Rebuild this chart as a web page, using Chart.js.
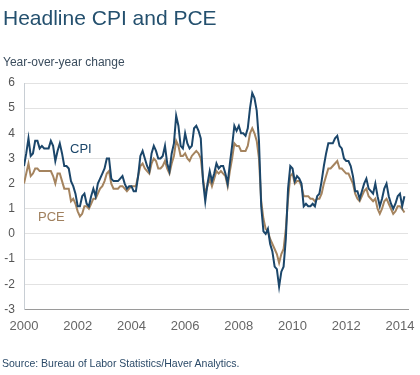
<!DOCTYPE html>
<html>
<head>
<meta charset="utf-8">
<script src="https://cdn.jsdelivr.net/npm/chart.js@4.4.1/dist/chart.umd.min.js"></script>
<style>
  html, body { margin: 0; padding: 0; background: #fff; }
  #wrap { position: relative; width: 420px; height: 375px; font-family: "Liberation Sans", Arial, sans-serif; }
  #chart { position: absolute; left: 0; top: 0; }
  .txt { position: absolute; white-space: nowrap; }
  #title { left: 3px; top: 6px; font-size: 21px; color: #24506e; }
  #subtitle { left: 3px; top: 55px; font-size: 12px; color: #3b4d5e; }
  #source { left: 2px; top: 357px; font-size: 10.5px; color: #2b4a68; }
  #lblCpi { left: 70px; top: 141px; font-size: 13px; color: #1b466a; }
  #lblPce { left: 38px; top: 209px; font-size: 13px; color: #a0805e; }
</style>
</head>
<body>
<div id="wrap">
  <canvas id="chart" width="420" height="375"></canvas>
  <div class="txt" id="title">Headline CPI and PCE</div>
  <div class="txt" id="subtitle">Year-over-year change</div>
  <div class="txt" id="lblCpi">CPI</div>
  <div class="txt" id="lblPce">PCE</div>
  <div class="txt" id="source">Source: Bureau of Labor Statistics/Haver Analytics.</div>
</div>
<script>
// monthly data, Jan 2000 - Mar 2014 (year-over-year % change)
const startYear = 2000;

const cpi = [
  2.7, 3.2, 3.8, 3.1, 3.2, 3.7, 3.7, 3.4, 3.5, 3.4, 3.4, 3.4, // 2000
  3.7, 3.5, 2.9, 3.3, 3.6, 3.2, 2.7, 2.7, 2.6, 2.1, 1.9, 1.6, // 2001
  1.1, 1.1, 1.5, 1.6, 1.2, 1.1, 1.5, 1.8, 1.5, 2.0, 2.2, 2.4, // 2002
  2.6, 3.0, 3.0, 2.2, 2.1, 2.1, 2.1, 2.2, 2.3, 2.0, 1.8, 1.9, // 2003
  1.9, 1.7, 1.7, 2.3, 3.1, 3.3, 3.0, 2.7, 2.5, 3.2, 3.5, 3.3, // 2004
  3.0, 3.0, 3.1, 3.5, 2.8, 2.5, 3.2, 3.6, 4.7, 4.3, 3.5, 3.4, // 2005
  4.0, 3.6, 3.4, 3.5, 4.2, 4.3, 4.1, 3.8, 2.1, 1.3, 2.0, 2.5, // 2006
  2.1, 2.4, 2.8, 2.6, 2.7, 2.7, 2.4, 2.0, 2.8, 3.5, 4.3, 4.1, // 2007
  4.3, 4.0, 4.0, 3.9, 4.2, 5.0, 5.6, 5.4, 4.9, 3.7, 1.1, 0.1, // 2008
  0.0, 0.2, -0.4, -0.7, -1.3, -1.4, -2.1, -1.5, -1.3, -0.2, 1.8, 2.7, // 2009
  2.6, 2.1, 2.3, 2.2, 2.0, 1.1, 1.2, 1.1, 1.1, 1.2, 1.1, 1.5, // 2010
  1.6, 2.1, 2.7, 3.2, 3.6, 3.6, 3.6, 3.8, 3.9, 3.5, 3.4, 3.0, // 2011
  2.9, 2.9, 2.7, 2.3, 1.7, 1.7, 1.4, 1.7, 2.0, 2.2, 1.8, 1.7, // 2012
  1.6, 2.0, 1.5, 1.1, 1.4, 1.8, 2.0, 1.5, 1.2, 1.0, 1.2, 1.5, // 2013
  1.6, 1.1, 1.5                                               // 2014
];

const pce = [
  2.0, 2.4, 2.8, 2.3, 2.4, 2.6, 2.6, 2.5, 2.5, 2.5, 2.5, 2.5, // 2000
  2.5, 2.3, 2.0, 2.4, 2.4, 2.1, 1.8, 1.8, 1.8, 1.3, 1.4, 1.2, // 2001
  0.9, 0.7, 0.8, 1.1, 1.1, 1.0, 1.2, 1.4, 1.4, 1.6, 1.8, 1.9, // 2002
  2.1, 2.4, 2.5, 2.0, 1.8, 1.8, 1.8, 1.9, 1.9, 1.8, 1.7, 1.8, // 2003
  1.9, 1.9, 1.9, 2.3, 2.7, 2.8, 2.6, 2.5, 2.4, 2.8, 3.0, 2.9, // 2004
  2.6, 2.6, 2.7, 2.9, 2.6, 2.4, 2.8, 3.1, 3.7, 3.5, 3.1, 3.1, // 2005
  3.2, 3.0, 2.9, 3.1, 3.2, 3.3, 3.2, 3.0, 2.2, 1.6, 1.9, 2.2, // 2006
  1.9, 2.2, 2.5, 2.4, 2.5, 2.4, 2.3, 1.9, 2.5, 3.0, 3.6, 3.5, // 2007
  3.5, 3.3, 3.3, 3.3, 3.5, 4.0, 4.2, 4.0, 3.7, 3.0, 1.3, 0.6, // 2008
  0.2, 0.1, -0.2, -0.4, -0.6, -0.8, -1.15, -0.8, -0.6, 0.2, 1.4, 2.3, // 2009
  2.4, 2.0, 2.1, 2.1, 1.9, 1.5, 1.5, 1.5, 1.4, 1.4, 1.3, 1.4, // 2010
  1.4, 1.6, 2.0, 2.3, 2.6, 2.6, 2.7, 2.8, 2.9, 2.6, 2.6, 2.5, // 2011
  2.4, 2.4, 2.2, 2.0, 1.6, 1.4, 1.3, 1.5, 1.7, 1.8, 1.5, 1.4, // 2012
  1.3, 1.4, 1.0, 0.8, 1.0, 1.3, 1.4, 1.2, 1.0, 0.8, 0.9, 1.1, // 2013
  1.1, 1.0, 0.85                                              // 2014
];

const yearTicks = [2000, 2002, 2004, 2006, 2008, 2010, 2012, 2014];
const yTicks = [-3, -2, -1, 0, 1, 2, 3, 4, 5, 6];

function toPoints(values) {
  return values.map((v, i) => ({ x: startYear + i / 12, y: v }));
}

const ctx = document.getElementById("chart").getContext("2d");

new Chart(ctx, {
  type: "line",
  data: {
    datasets: [
      {
        label: "CPI",
        data: toPoints(cpi),
        borderColor: "#1b466a",
        borderWidth: 2,
        pointRadius: 0,
        tension: 0,
      },
      {
        label: "PCE",
        data: toPoints(pce),
        borderColor: "#a5845f",
        borderWidth: 2,
        pointRadius: 0,
        tension: 0,
      },
    ],
  },
  options: {
    responsive: false,
    animation: false,
    layout: { padding: { top: 83, left: 3, right: 12, bottom: 32 } },
    plugins: {
      legend: { display: false },
      tooltip: { enabled: false },
    },
    scales: {
      x: {
        type: "linear",
        min: 2000,
        max: 2014.3,
        afterBuildTicks: (scale) => {
          scale.ticks = yearTicks.map((v) => ({ value: v }));
        },
        afterFit: (scale) => {
          // labels may overhang the plot edges, as in the original
          scale.paddingLeft = 0;
          scale.paddingRight = 0;
        },
        grid: { display: false, drawTicks: false },
        border: { display: true, color: "#9a9a9a", width: 1 },
        ticks: {
          autoSkip: false,
          maxRotation: 0,
          padding: 9,
          color: "#666",
          font: { family: "Liberation Sans", size: 13 },
          callback: (v) => String(v),
        },
      },
      y: {
        min: -3,
        max: 6,
        afterBuildTicks: (scale) => {
          scale.ticks = yTicks.map((v) => ({ value: v }));
        },
        afterFit: (scale) => {
          scale.width = 21;
        },
        grid: { color: "#e2e2e2", drawTicks: false },
        border: { display: true, color: "#c8ced4", width: 1 },
        ticks: {
          padding: 9,
          color: "#555",
          font: { family: "Liberation Sans", size: 12 },
        },
      },
    },
  },
});
</script>
</body>
</html>
